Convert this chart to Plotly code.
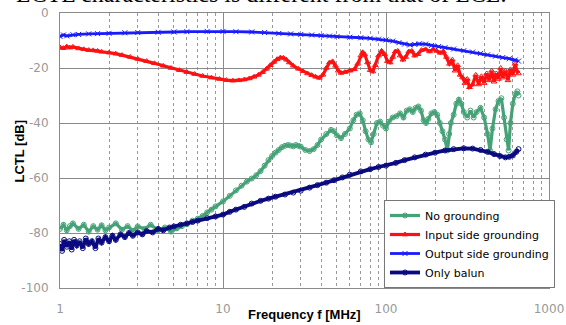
import plotly.graph_objects as go

# ---------------- data ----------------
f_green = [1.0, 1.05, 1.1, 1.15, 1.2, 1.3, 1.4, 1.5, 1.6, 1.7, 1.8, 1.9, 2.0, 2.2, 2.4, 2.6, 2.8, 3.0,
           3.3, 3.6, 4.0, 4.4, 4.8, 5.2, 5.6, 6.0, 6.5, 7.0, 7.5, 8.0, 8.5, 9, 10, 11, 12, 13, 14, 15,
           16, 17, 18, 19, 20, 21, 22, 23, 24, 25, 26, 27, 28, 29, 30, 32, 34, 36, 38, 40, 43, 46, 48,
           50, 53, 56, 60, 63, 66, 69, 72, 75, 78, 81, 84, 88, 92, 96, 100, 104, 110, 116, 122, 128,
           134, 140, 146, 152, 158, 164, 170, 176, 182, 190, 198, 206, 214, 222, 230, 238, 244, 250,
           260, 270, 280, 290, 300, 315, 330, 345, 360, 380, 400, 420, 435, 450, 470, 490, 510, 530,
           550, 565, 580, 600, 620, 640, 650]
v_green = [-78.5, -77, -79, -77.5, -76.5, -78.5, -77, -79.5, -77.5, -78.8, -77.2, -79, -78, -76.5,
           -78.8, -77.5, -79.2, -77.6, -78.5, -77, -79, -78, -79.5, -78.3, -77.5, -76.8, -75.5, -74.8,
           -73.8, -72.5, -71.5, -70.3, -68.5, -66.5, -64.5, -62.8, -61.3, -60.2, -59, -57.5, -55.5,
           -53.5, -52, -50.8, -49.8, -48.8, -48.3, -48, -48.2, -48.5, -48, -48.3, -48.6, -49.8, -50.2,
           -49.5, -48, -46, -44, -42.5, -43, -44.5, -45.5, -44, -42, -39, -37, -36.5, -39, -43, -46,
           -47, -44, -40, -39.5, -41, -42, -39.5, -38, -37.5, -36.5, -38, -35.5, -35, -36, -34.5, -34,
           -35.5, -39, -40, -38.5, -36.5, -36, -37, -40, -43, -46, -50, -44, -40, -37, -33, -31.5, -33,
           -36, -38, -35.5, -38, -36, -34.5, -38, -44, -50, -42, -35, -32, -31, -38, -46, -50, -40,
           -33, -29.5, -28.5, -30]

f_red = [1.0, 1.05, 1.1, 1.15, 1.2, 1.3, 1.4, 1.5, 1.6, 1.7, 1.8, 2.0, 2.2, 2.4, 2.7, 3, 3.4, 3.8,
         4.3, 4.8, 5.4, 6, 6.7, 7.5, 8.5, 9.5, 10.5, 11.5, 12.5, 13.5, 14.5, 15.5, 16.5, 17.5, 18.5,
         19.5, 20.5, 21.5, 22.5, 23.5, 24.5, 25.5, 27, 29, 31, 33, 35, 37, 39, 41, 43, 45, 47, 49, 51,
         53, 56, 60, 64, 67, 70, 72, 74, 77, 80, 83, 86, 90, 94, 98, 102, 106, 110, 114, 118, 122, 127,
         132, 138, 144, 150, 157, 165, 175, 185, 195, 205, 215, 225, 235, 245, 255, 265, 275, 285,
         295, 305, 315, 325, 340, 355, 370, 385, 400, 415, 430, 445, 460, 475, 490, 505, 520, 540,
         560, 580, 600, 620, 635, 650]
v_red = [-12.5, -12.8, -12.2, -12.6, -12.3, -12.9, -13.2, -13.5, -13.6, -13.8, -14.1, -14.4, -14.8,
         -15.3, -16, -16.7, -17.5, -18.3, -19.2, -20, -20.8, -21.5, -22.2, -22.9, -23.5, -24, -24.4,
         -24.6, -24.5, -24.2, -23.8, -23.2, -22.5, -21.5, -20.3, -19, -17.8, -16.8, -16.2, -16.3, -17,
         -18, -19.2, -20.3, -21.2, -22, -22.6, -23.2, -23.6, -22.5, -20, -18, -17.6, -19.2, -21, -21.8,
         -21.5, -21, -20.5, -18.5, -15.5, -14.3, -15, -18, -20.8, -21.3, -19, -15.5, -13.8, -15, -17.5,
         -18, -16, -14, -13.8, -15.5, -17, -16, -14, -13.8, -15.5, -15, -13.5, -13.2, -14, -13.2,
         -13.8, -14.5, -14, -16, -18.5, -17, -21, -19, -22.5, -23.5, -25.5, -24, -27, -26, -22.5, -26,
         -23, -25.5, -22, -24.5, -21, -25, -22, -24, -20, -23.5, -21, -24.5, -20.5, -22.5, -18.5, -21,
         -22]

f_blue = [1.0, 1.05, 1.1, 1.2, 1.3, 1.5, 1.7, 2, 2.5, 3, 4, 5, 6, 8, 10, 12, 15, 18, 22, 26, 30, 35,
          40, 45, 50, 60, 70, 80, 90, 100, 110, 120, 130, 140, 150, 160, 175, 190, 210, 230, 260, 300,
          340, 380, 420, 470, 520, 570, 620, 650]
v_blue = [-8.5, -8, -8.3, -7.9, -7.8, -7.6, -7.5, -7.4, -7.2, -7.1, -7, -6.9, -6.8, -6.7, -6.7, -6.8,
          -6.9, -7.1, -7.4, -7.6, -7.8, -8, -8.2, -8.4, -8.6, -8.8, -9, -9.2, -9.5, -9.8, -10.2, -10.8,
          -11.3, -11.6, -11.4, -11.2, -11.3, -11.8, -12.2, -12.6, -13.1, -13.7, -14.2, -14.7, -15.2,
          -15.7, -16.2, -16.6, -17.1, -17.5]

f_navy = [1.0, 1.03, 1.06, 1.1, 1.14, 1.18, 1.22, 1.27, 1.32, 1.38, 1.44, 1.5, 1.57, 1.65, 1.72, 1.8,
          1.9, 2.0, 2.1, 2.2, 2.35, 2.5, 2.65, 2.8, 3.0, 3.2, 3.4, 3.7, 4.0, 4.3, 4.7, 5.0, 5.5, 6, 6.5,
          7, 8, 9, 10, 11, 12, 13.5, 15, 17, 19, 21, 24, 27, 30, 34, 38, 43, 48, 54, 60, 70, 80, 90,
          100, 115, 130, 150, 175, 200, 230, 260, 300, 340, 380, 420, 460, 500, 540, 570, 600, 630, 650]
v_navy = [-84, -86.5, -82.5, -85, -83, -86, -82.5, -84.5, -83, -85.5, -82, -84, -83, -85.5, -82, -83.5,
          -81.5, -83, -81, -82.5, -80.5, -81.5, -80, -81, -79.8, -80.5, -79.3, -79.8, -78.5, -79, -78,
          -77.6, -77, -76.5, -76, -75.5, -74.6, -74, -73.3, -72.3, -71.5, -70.5, -69.3, -68.3, -67.5,
          -66.8, -66, -65.3, -64.6, -63.5, -62.6, -61.7, -60.8, -59.8, -58.8, -57.6, -56.8, -56, -55.5,
          -54.5, -53.5, -52.5, -51.5, -50.8, -50, -49.5, -49.2, -49.3, -49.8, -50.5, -51.3, -52, -52.5,
          -52.3, -51.8, -50.5, -49.5]

series_names = ["No grounding", "Input side grounding", "Output side grounding", "Only balun"]
x_tickvals = [1, 10, 100, 1000]
x_ticktext = ["1", "10", "100", "1000"]
y_tickvals = [0, -20, -40, -60, -80, -100]
y_ticktext = ["0", "-20", "-40", "-60", "-80", "-100"]

# ---------------- figure ----------------
styles = [
    (f_green, v_green, "#45a276", "circle-open", 3.2),
    (f_red, v_red, "#ff1010", "triangle-up-open", 3.2),
    (f_blue, v_blue, "#1a1aff", "x-thin-open", 2.8),
    (f_navy, v_navy, "#0a0a80", "circle-open", 3.8),
]

fig = go.Figure()
for name, (fx, fy, col, sym, lw) in zip(series_names, styles):
    fig.add_trace(go.Scatter(
        x=fx, y=fy, name=name, mode="lines+markers",
        line=dict(color=col, width=lw),
        marker=dict(symbol=sym, size=5, color=col, line=dict(color=col, width=1)),
    ))

grid_col = "#8a8a8a"
tick_font = dict(family="DejaVu Sans, sans-serif", color="#999", size=12)
fig.update_layout(
    width=566, height=325,
    margin=dict(l=60, r=17, t=13, b=37, autoexpand=False),
    paper_bgcolor="white", plot_bgcolor="white",
    font=dict(family="Liberation Sans, Arial, sans-serif", size=11, color="#000"),
    showlegend=True,
    legend=dict(
        x=1.0123, y=0.0, xanchor="right", yanchor="bottom",
        bgcolor="white", bordercolor="#777", borderwidth=1,
        font=dict(family="DejaVu Sans, sans-serif", size=11, color="#000"),
        tracegroupgap=0, itemwidth=30,
    ),
    xaxis=dict(
        type="log", range=[0, 3], automargin=False,
        tickvals=x_tickvals, ticktext=x_ticktext,
        tickfont=tick_font, ticklabelstandoff=10,
        showgrid=True, gridcolor=grid_col, gridwidth=1,
        showline=True, linecolor=grid_col, linewidth=1, mirror=True,
        ticks="", zeroline=False,
        minor=dict(showgrid=True, dtick="D1", gridcolor="#999", griddash="dot", gridwidth=1, ticks=""),
    ),
    yaxis=dict(
        range=[-100, 0], automargin=False,
        tickvals=y_tickvals, ticktext=y_ticktext,
        tickfont=tick_font, ticklabelstandoff=8,
        showgrid=True, gridcolor=grid_col, gridwidth=1,
        showline=True, linecolor=grid_col, linewidth=1, mirror=True,
        ticks="", zeroline=False,
    ),
)

# axis titles
fig.add_annotation(
    text="<b>Frequency f [MHz]</b>", xref="paper", yref="paper",
    x=0.5, y=-0.098, xanchor="center", yanchor="middle", showarrow=False,
    font=dict(family="Liberation Sans, Arial, sans-serif", size=13, color="#000"),
)
fig.add_annotation(
    text="<b>LCTL [dB]</b>", xref="paper", yref="paper", textangle=-90,
    x=-0.0818, y=0.5, xanchor="center", yanchor="middle", showarrow=False,
    font=dict(family="Liberation Sans, Arial, sans-serif", size=13, color="#000"),
)

# clipped caption at the very top (as in the reference image)
fig.add_annotation(
    text="LCTL characteristics is different from that of LCL.",
    xref="paper", yref="paper", x=0.413, y=1.0, xanchor="center", yanchor="bottom",
    yshift=4, showarrow=False,
    font=dict(family="Liberation Serif, Times New Roman, serif", size=24, color="#000"),
)

fig.write_html("out.html", config={"displayModeBar": False},
               post_script="document.body.style.margin='0';")
